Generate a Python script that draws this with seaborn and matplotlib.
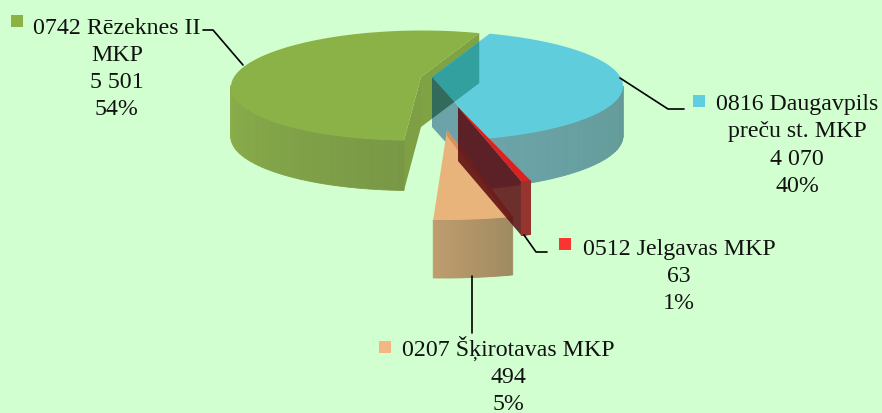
import numpy as np
import pandas as pd
import matplotlib
matplotlib.use('Agg')
import matplotlib.pyplot as plt
import seaborn as sns
from matplotlib.patches import Polygon

# chart values
names = ['0816 Daugavpils\npreču st. MKP', '0512 Jelgavas MKP', '0207 Šķirotavas MKP', '0742 Rēzeknes II\nMKP']
values = [4070, 63, 494, 5501]
percents = ['40%', '1%', '5%', '54%']

# colours
bg = '#d1ffcf'
top_colors = ['#60cddd', '#dd2020', '#e8b47c', '#8bb246']
key_colors = ['#5fcfe0', '#f8352e', '#f3b784', '#8db244']
wall_left = {'blue': '#6ba3a8', 'red': '#96352e', 'orange': '#bd9c6e', 'green': '#8aae4a'}
wall_right = {'blue': '#639a98', 'red': '#96352e', 'orange': '#a08a60', 'green': '#799846'}

# geometry of the exploded slices, in pixels
start_angle = 18
apex = {'blue': (432, 78), 'red': (458, 108), 'orange': (447, 131), 'green': (421, 78)}
arc_center = {'blue': (430, 87), 'red': (458, 108), 'orange': (444.5, 131), 'green': (417, 86.5)}
radii = {'blue': (193, 55), 'red': (243, 77), 'orange': (262, 90), 'green': (186, 55)}
shear = {'blue': 0, 'red': 0, 'orange': 0, 'green': 5}
depth = {'blue': 50, 'red': 54, 'orange': 58, 'green': 50}
order = ['blue', 'red', 'orange', 'green']

sns.set_theme(style='white', rc={'figure.facecolor': bg, 'axes.facecolor': bg})
plt.rcParams['font.family'] = ['Liberation Serif', 'DejaVu Serif']

fig = plt.figure(figsize=(8.82, 4.14), dpi=100)
ax = fig.add_axes([0, 0, 1, 1])
ax.set_xlim(0, 882)
ax.set_ylim(414, 0)
ax.axis('off')

# slice angles come from the values
spans = np.array(values) / sum(values) * 360
edges = start_angle + np.concatenate([[0], np.cumsum(spans)])
angles = {k: (edges[i], edges[i + 1]) for i, k in enumerate(order)}


def arc(key, n=80, a0=None, a1=None):
    a0 = angles[key][0] if a0 is None else a0
    a1 = angles[key][1] if a1 is None else a1
    t = np.radians(np.linspace(a0, a1, n))
    cx, cy = arc_center[key]
    ra, rb = radii[key]
    return np.column_stack([cx + ra * np.sin(t) + shear[key] * np.cos(t), cy - rb * np.cos(t)])


def poly(pts, color, alpha=1.0, z=1, clip=None, edge=False):
    p = Polygon(pts, closed=True, facecolor=color, edgecolor=color if edge else 'none',
                linewidth=0.6 if edge else 0, alpha=alpha, zorder=z)
    ax.add_patch(p)
    if clip is not None:
        p.set_clip_path(clip)
    return p


def top_face(key):
    return np.vstack([[apex[key]], arc(key)])


def cut_wall(key, end):
    pts = arc(key)
    outer = pts[0] if end == 0 else pts[-1]
    d = np.array([0, depth[key]])
    return np.array([apex[key], outer, outer + d, np.array(apex[key]) + d])


def outer_wall(key, z):
    # front part of the rim, in strips so that the shading changes along it
    a0, a1 = angles[key]
    a0 = max(a0, 90)
    a1 = min(a1, 270)
    strip_edges = np.linspace(a0, a1, 41)
    left = np.array(matplotlib.colors.to_rgb(wall_left[key]))
    right = np.array(matplotlib.colors.to_rgb(wall_right[key]))
    for i in range(40):
        pts = arc(key, 6, strip_edges[i], strip_edges[i + 1])
        wall = np.vstack([pts, pts[::-1] + [0, depth[key]]])
        # angles grow from right to left on the front of the pie
        f = i / 39
        poly(wall, right + (left - right) * f, 1.0, z, edge=True)


# green slice
green_back = cut_wall('green', 1)
poly(green_back, '#7fa243', 1, 1)
poly(cut_wall('green', 0), '#7f9f44', 1, 1)
outer_wall('green', 2)
poly(top_face('green'), top_colors[3], 1, 3)

# blue slice, green back wall shows through it
outer_wall('blue', 4)
blue_cut = poly(cut_wall('blue', 1), wall_left['blue'], 1, 4)
blue_top = poly(top_face('blue'), top_colors[0], 1, 5)
poly(green_back, '#33a0a0', 1, 6, clip=blue_top)
poly(green_back, '#326a5c', 1, 6, clip=blue_cut)

# orange slice
outer_wall('orange', 7)
poly(top_face('orange'), top_colors[2], 1, 8)
orange_edge = arc('orange')[0]
orange_apex = np.array(apex['orange'])
poly([orange_apex, orange_edge, orange_edge + [-3, 1], orange_apex + [0, 6]], '#d98f5e', 1, 9)

# red slice, see-through over the rest
poly(cut_wall('red', 1), '#5a0a0f', 0.85, 10)
outer_wall('red', 11)
poly(top_face('red'), top_colors[1], 1, 12)

# leader lines
leader_x = [[620, 668, 684], [524, 536, 547], [471.5, 471.5], [203, 213, 243]]
leader_y = [[79, 110, 110], [236, 253, 253], [277, 334], [31, 31, 66]]
for lx, ly in zip(leader_x, leader_y):
    sns.lineplot(x=lx, y=ly, ax=ax, color='black', linewidth=1.2, sort=False, estimator=None, zorder=13)

# labels and their colour keys
text_x = [797, 679, 508, 117]
baseline_y = [110, 255, 356, 34]
line_step = [27.4, 27.2, 27, 27]
key_x = [699, 565, 385, 17]
key_y = [102, 245, 348, 22]
for i in range(4):
    value_txt = f'{values[i]:,}'.replace(',', ' ')
    lines = names[i].split('\n') + [value_txt, percents[i]]
    for j, line in enumerate(lines):
        ax.text(text_x[i], baseline_y[i] + j * line_step[i], line, ha='center', va='baseline',
                fontsize=17.2, color='#111111', zorder=14, clip_on=True)

keys = pd.DataFrame({'x': key_x, 'y': key_y, 'name': names})
sns.scatterplot(data=keys, x='x', y='y', hue='name', palette=dict(zip(names, key_colors)), marker='s', s=75,
                linewidth=0, legend=False, ax=ax, zorder=14)
ax.set_xlabel('')
ax.set_ylabel('')

fig.savefig('out.png', dpi=100, facecolor=bg)
